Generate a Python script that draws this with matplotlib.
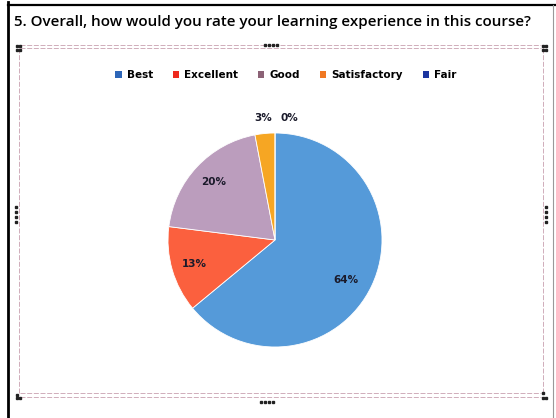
import matplotlib.pyplot as plt
from matplotlib.patches import Patch
from matplotlib.lines import Line2D

# Survey question 5 - rating of the learning experience
categories = ['Best', 'Excellent', 'Good', 'Satisfactory', 'Fair']
percent = [64, 13, 20, 3, 0]
slice_colors = ['#559ad9', '#fb603e', '#bb9dbd', '#f6a623', '#1f3aa0']
legend_colors = ['#2d66b8', '#ee2a1e', '#8c6276', '#f07822', '#1c35a0']

W, H = 556, 418
fig = plt.figure(figsize=(W / 100, H / 100), dpi=100)
fig.patch.set_facecolor('white')

def fx(px):
    return px / W

def fy(py):
    return 1 - py / H

# outer frame of the question block
fig.add_artist(Line2D([fx(8), fx(8)], [fy(2), fy(418)], color='black', lw=2.0))
fig.add_artist(Line2D([fx(8), fx(556)], [fy(5), fy(5)], color='black', lw=1.6))
fig.add_artist(Line2D([fx(553), fx(553)], [fy(5), fy(418)], color='#999999', lw=0.8))

fig.text(fx(14), fy(22), '5. Overall, how would you rate your learning experience in this course?',
         fontsize=10.9, fontfamily='Open Sans', fontweight='semibold', va='center', ha='left')

# dashed chart-area frame with selection handles
for y in (45, 48, 393, 397):
    fig.add_artist(Line2D([fx(20), fx(541)], [fy(y), fy(y)], color='#c9a0b0', lw=0.6, ls=(0, (6, 2))))
for x in (19, 543):
    fig.add_artist(Line2D([fx(x), fx(x)], [fy(48), fy(393)], color='#c9a0b0', lw=0.6, ls=(0, (6, 2))))

handle_pts = [(17, 46), (17, 50), (20, 46), (20, 50),
              (543, 46), (546, 46), (543, 50), (546, 50),
              (17, 395), (17, 398), (20, 398),
              (543, 393), (543, 398), (546, 398),
              (265, 45), (269, 45), (273, 45), (277, 45),
              (261, 402), (265, 402), (269, 402), (273, 402),
              (16, 207), (16, 212), (16, 217), (16, 222),
              (546, 207), (546, 212), (546, 217), (546, 222)]
for hx, hy in handle_pts:
    fig.add_artist(Line2D([fx(hx)], [fy(hy)], marker='s', ms=1.6, color='#222222', lw=0))

# pie
R = 107
cx, cy = 275, 240
ax = fig.add_axes([fx(cx - R), fy(cy + R), 2 * R / W, 2 * R / H])
wedges, texts, autotexts = ax.pie(
    percent, colors=slice_colors, startangle=90, counterclock=False,
    autopct='%d%%', pctdistance=0.79,
    wedgeprops=dict(edgecolor='white', linewidth=0.6),
    textprops=dict(fontsize=7.5, fontweight='bold', color='#1a1a2a'))
ax.set_xlim(-1, 1)
ax.set_ylim(-1, 1)
ax.set_aspect('auto')
ax.axis('off')

# small slices get their labels above the pie
autotexts[3].set_position((-0.11, 1.14))
autotexts[4].set_position((0.13, 1.14))
autotexts[0].set_position((0.66, -0.37))

handles = [Patch(facecolor=c, edgecolor='none') for c in legend_colors]
fig.legend(handles, categories, loc='center', bbox_to_anchor=(fx(286), fy(75)),
           ncol=5, frameon=False, handlelength=0.6, handleheight=0.6,
           handletextpad=0.5, columnspacing=1.9,
           prop=dict(size=7.5, weight='bold'))

fig.savefig('out.png', dpi=100, facecolor='white')
